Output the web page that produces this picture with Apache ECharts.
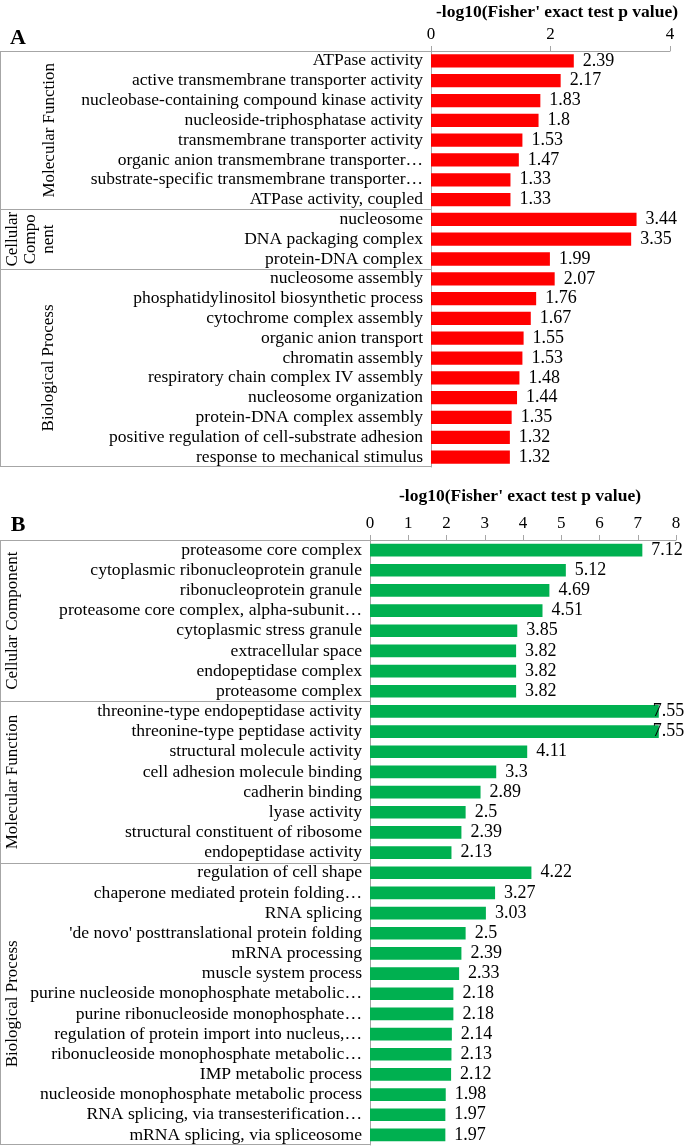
<!DOCTYPE html>
<html>
<head>
<meta charset="utf-8">
<script src="https://cdn.jsdelivr.net/npm/echarts@6/dist/echarts.min.js"></script>
<style>
  html, body { margin: 0; padding: 0; background: #fff; }
  #chart { width: 685px; height: 1147px; }
</style>
</head>
<body>
<div id="chart"></div>
<script>
const axisTitle = "-log10(Fisher' exact test p value)"

// panel A
const groupNamesA = ['Molecular Function', 'Cellular\nCompo\nnent', 'Biological Process']
const mfLabelsA = [
  'ATPase activity',
  'active transmembrane transporter activity',
  'nucleobase-containing compound kinase activity',
  'nucleoside-triphosphatase activity',
  'transmembrane transporter activity',
  'organic anion transmembrane transporter…',
  'substrate-specific transmembrane transporter…',
  'ATPase activity, coupled',
]
const mfValuesA = [2.39, 2.17, 1.83, 1.8, 1.53, 1.47, 1.33, 1.33]
const ccLabelsA = ['nucleosome', 'DNA packaging complex', 'protein-DNA complex']
const ccValuesA = [3.44, 3.35, 1.99]
const bpLabelsA = [
  'nucleosome assembly',
  'phosphatidylinositol biosynthetic process',
  'cytochrome complex assembly',
  'organic anion transport',
  'chromatin assembly',
  'respiratory chain complex IV assembly',
  'nucleosome organization',
  'protein-DNA complex assembly',
  'positive regulation of cell-substrate adhesion',
  'response to mechanical stimulus',
]
const bpValuesA = [2.07, 1.76, 1.67, 1.55, 1.53, 1.48, 1.44, 1.35, 1.32, 1.32]
const ticksA = { max: 4, interval: 2 }

// panel B
const groupNamesB = ['Cellular Component', 'Molecular Function', 'Biological Process']
const ccLabelsB = [
  'proteasome core complex',
  'cytoplasmic ribonucleoprotein granule',
  'ribonucleoprotein granule',
  'proteasome core complex, alpha-subunit…',
  'cytoplasmic stress granule',
  'extracellular space',
  'endopeptidase complex',
  'proteasome complex',
]
const ccValuesB = [7.12, 5.12, 4.69, 4.51, 3.85, 3.82, 3.82, 3.82]
const mfLabelsB = [
  'threonine-type endopeptidase activity',
  'threonine-type peptidase activity',
  'structural molecule activity',
  'cell adhesion molecule binding',
  'cadherin binding',
  'lyase activity',
  'structural constituent of ribosome',
  'endopeptidase activity',
]
const mfValuesB = [7.55, 7.55, 4.11, 3.3, 2.89, 2.5, 2.39, 2.13]
const bpLabelsB = [
  'regulation of cell shape',
  'chaperone mediated protein folding…',
  'RNA splicing',
  "'de novo' posttranslational protein folding",
  'mRNA processing',
  'muscle system process',
  'purine nucleoside monophosphate metabolic…',
  'purine ribonucleoside monophosphate…',
  'regulation of protein import into nucleus,…',
  'ribonucleoside monophosphate metabolic…',
  'IMP metabolic process',
  'nucleoside monophosphate metabolic process',
  'RNA splicing, via transesterification…',
  'mRNA splicing, via spliceosome',
]
const bpValuesB = [4.22, 3.27, 3.03, 2.5, 2.39, 2.33, 2.18, 2.18, 2.14, 2.13, 2.12, 1.98, 1.97, 1.97]
const ticksB = { max: 8, interval: 1 }

const SERIF = '"Liberation Serif", "Times New Roman", serif'
const LINE = '#a6a6a6'

const panels = [
  {
    letter: 'A',
    color: '#ff0000',
    groups: groupNamesA,
    labels: [mfLabelsA, ccLabelsA, bpLabelsA],
    values: [mfValuesA, ccValuesA, bpValuesA],
    ticks: ticksA,
    grid: { left: 431, right: 15, top: 51, height: 416 },
    gap: '33%',
    labelSize: 17.5,
    groupX: [50, 31, 49],
    groupLine: 18,
    titleX: 557,
    titleY: 12,
    letterY: 38,
  },
  {
    letter: 'B',
    color: '#00b050',
    groups: groupNamesB,
    labels: [ccLabelsB, mfLabelsB, bpLabelsB],
    values: [ccValuesB, mfValuesB, bpValuesB],
    ticks: ticksB,
    grid: { left: 370, right: 9, top: 540, height: 605 },
    gap: '37%',
    labelSize: 17.6,
    groupX: [13, 13, 13],
    groupLine: 18,
    titleX: 520,
    titleY: 496,
    letterY: 525,
  },
]

const chart = echarts.init(document.getElementById('chart'))

chart.setOption({
  animation: false,
  grid: panels.map((p) => ({ ...p.grid, containLabel: false })),
  xAxis: panels.map((p, i) => ({
    type: 'value',
    gridIndex: i,
    position: 'top',
    min: 0,
    max: p.ticks.max,
    interval: p.ticks.interval,
    axisLine: { show: true, lineStyle: { color: LINE, width: 1 } },
    axisTick: { show: true, length: 5, lineStyle: { color: LINE } },
    axisLabel: { color: '#000', fontFamily: SERIF, fontSize: 17, margin: 8 },
    splitLine: { show: false },
  })),
  yAxis: panels.map((p, i) => ({
    type: 'category',
    gridIndex: i,
    inverse: true,
    data: p.labels.flat(),
    axisLine: { show: true, lineStyle: { color: LINE, width: 1 } },
    axisTick: { show: false },
    axisLabel: { interval: 0, color: '#000', fontFamily: SERIF, fontSize: p.labelSize, margin: 8 },
  })),
  series: panels.map((p, i) => ({
    type: 'bar',
    xAxisIndex: i,
    yAxisIndex: i,
    barCategoryGap: p.gap,
    itemStyle: { color: p.color },
    label: {
      show: true,
      position: 'right',
      distance: 9,
      color: '#000',
      fontFamily: SERIF,
      fontSize: 18,
    },
    // labels of bars that reach the right edge sit on the bar end, as in the source
    data: p.values.flat().map((v) =>
      v > p.ticks.max * 0.93 ? { value: v, label: { distance: 0, offset: [-6, 0] } } : v
    ),
  })),
})

// group boxes, separators and rotated group names, placed from the axis scale
const graphics = []
panels.forEach((p, i) => {
  const n = p.labels.flat().length
  const yAt = (k) => chart.convertToPixel({ yAxisIndex: i }, k)
  const step = yAt(1) - yAt(0)
  const top = Math.round(yAt(0) - step / 2) + 0.5
  const bottom = Math.round(yAt(n - 1) + step / 2) - 0.5
  const x0 = Math.round(chart.convertToPixel({ xAxisIndex: i }, 0)) + 0.5
  const lineStyle = { stroke: LINE, lineWidth: 1 }

  graphics.push(
    { type: 'line', shape: { x1: 0, y1: top, x2: x0, y2: top }, style: lineStyle },
    { type: 'line', shape: { x1: 0.5, y1: top, x2: 0.5, y2: bottom }, style: lineStyle },
    { type: 'line', shape: { x1: 0, y1: bottom, x2: x0, y2: bottom }, style: lineStyle }
  )

  let start = 0
  p.labels.forEach((list, g) => {
    const end = start + list.length
    if (g > 0) {
      const y = Math.round((yAt(start - 1) + yAt(start)) / 2) + 0.5
      graphics.push({ type: 'line', shape: { x1: 0, y1: y, x2: x0, y2: y }, style: lineStyle })
    }
    const mid = (yAt(start) + yAt(end - 1)) / 2
    graphics.push({
      type: 'text',
      x: p.groupX[g],
      y: mid,
      rotation: Math.PI / 2,
      style: {
        text: p.groups[g],
        font: '17px ' + SERIF,
        fill: '#000',
        textAlign: 'center',
        textVerticalAlign: 'middle',
        lineHeight: p.groupLine,
      },
    })
    start = end
  })

  graphics.push(
    {
      type: 'text',
      x: p.titleX,
      y: p.titleY,
      style: {
        text: axisTitle,
        font: 'bold 17.5px ' + SERIF,
        fill: '#000',
        textAlign: 'center',
        textVerticalAlign: 'middle',
      },
    },
    {
      type: 'text',
      x: 18,
      y: p.letterY,
      style: {
        text: p.letter,
        font: 'bold 22px ' + SERIF,
        fill: '#000',
        textAlign: 'center',
        textVerticalAlign: 'middle',
      },
    }
  )
})

chart.setOption({ graphic: { elements: graphics } })
</script>
</body>
</html>
